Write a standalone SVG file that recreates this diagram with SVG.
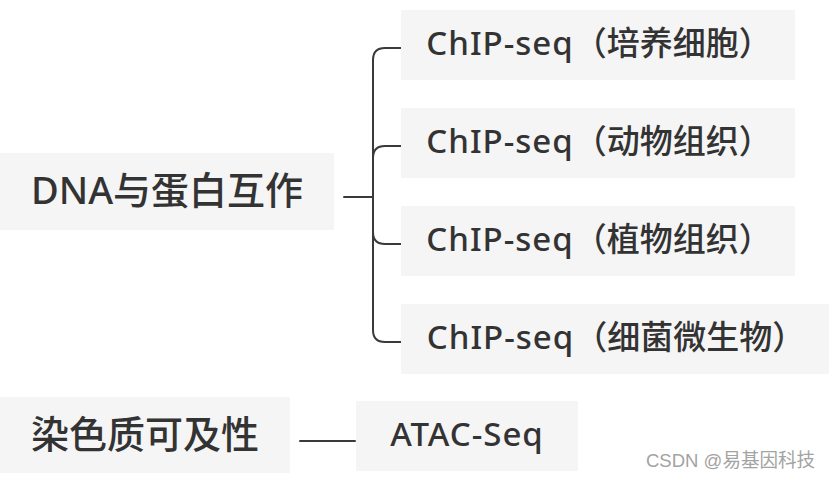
<svg xmlns="http://www.w3.org/2000/svg" width="832" height="478" viewBox="0 0 832 478">
<style>
.box{fill:#f5f5f5}
.t{font-family:"Noto Sans","Noto Sans CJK SC",sans-serif;fill:#333;text-anchor:middle;font-weight:500}
.p{font-size:38px}
.c{font-size:33px}
.lat{letter-spacing:1px}
.cn{fill:none;stroke:#3a3a3a;stroke-width:2;stroke-linecap:round}
.wm{font-family:"Liberation Sans","Noto Sans CJK SC",sans-serif;font-size:19px;fill:#a3a3a3}
</style>
<rect width="832" height="478" fill="#fff"/>
<g id="connectors">
<path class="cn" d="M344,197 H373"/>
<path class="cn" d="M401,48 H385 Q373,48 373,60 V330 Q373,342 385,342 H401"/>
<path class="cn" d="M373,158 Q373,146 385,146 H401"/>
<path class="cn" d="M373,232 Q373,244 385,244 H401"/>
<path class="cn" d="M300,441 H355"/>
</g>
<g id="dna">
<rect class="box" x="0" y="153" width="334" height="77"/>
<text class="t p" x="167" y="204">DNA与蛋白互作</text>
</g>
<g id="chip1">
<rect class="box" x="401" y="10" width="394" height="70"/>
<text class="t c" x="599" y="55"><tspan class="lat">ChIP-seq</tspan>（培养细胞）</text>
</g>
<g id="chip2">
<rect class="box" x="401" y="108" width="394" height="70"/>
<text class="t c" x="599" y="153"><tspan class="lat">ChIP-seq</tspan>（动物组织）</text>
</g>
<g id="chip3">
<rect class="box" x="401" y="206" width="394" height="70"/>
<text class="t c" x="599" y="251"><tspan class="lat">ChIP-seq</tspan>（植物组织）</text>
</g>
<g id="chip4">
<rect class="box" x="401" y="304" width="428" height="70"/>
<text class="t c" x="616" y="349"><tspan class="lat">ChIP-seq</tspan>（细菌微生物）</text>
</g>
<g id="chromatin">
<rect class="box" x="0" y="397" width="290" height="76"/>
<text class="t p" x="145" y="448">染色质可及性</text>
</g>
<g id="atac">
<rect class="box" x="356" y="401" width="222" height="70"/>
<text class="t c lat" x="467" y="446">ATAC-Seq</text>
</g>
<g id="watermark">
<text class="wm" x="646" y="467" textLength="169" lengthAdjust="spacingAndGlyphs">CSDN @易基因科技</text>
</g>
</svg>
